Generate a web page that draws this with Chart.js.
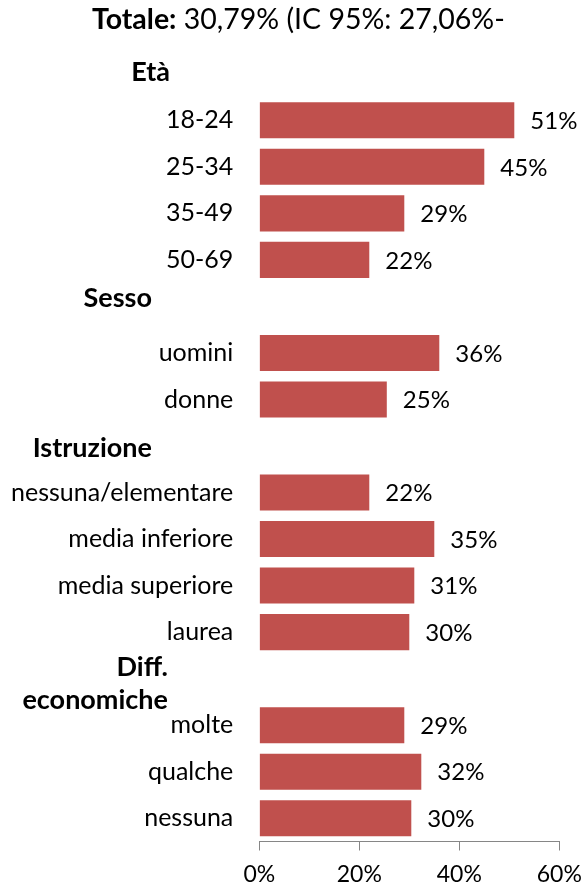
<!DOCTYPE html>
<html>
<head>
<meta charset="utf-8">
<script src="https://cdn.jsdelivr.net/npm/chart.js@4/dist/chart.umd.min.js"></script>
<style>
  html, body { margin: 0; padding: 0; background: #ffffff; }
  #wrap { width: 586px; height: 888px; position: relative; }
</style>
</head>
<body>
<div id="wrap"><canvas id="c" width="586" height="888"></canvas></div>
<script>
// ---- data ----
const titleBold = 'Totale:';
const titleRest = ' 30,79% (IC 95%: 27,06%-';
const categories = ['Età', '18-24', '25-34', '35-49', '50-69',
  'Sesso', 'uomini', 'donne',
  'Istruzione', 'nessuna/elementare', 'media inferiore', 'media superiore', 'laurea',
  'Diff. economiche', 'molte', 'qualche', 'nessuna'];
const groupHeaders = ['Età', 'Sesso', 'Istruzione', 'Diff. economiche'];
const values = [null, 51, 45, 29, 22,
  null, 36, 25.5,
  null, 22, 35, 31, 30,
  null, 29, 32.4, 30.4];
const valueLabels = ['', '51%', '45%', '29%', '22%',
  '', '36%', '25%',
  '', '22%', '35%', '31%', '30%',
  '', '29%', '32%', '30%'];
const xTicks = [0, 20, 40, 60];

// ---- styles ----
const FONT = 'Lato';
const BAR = '#C0504D';
const AXIS = '#868686';

const headerLayout = {
  'Età': { right: 170, dy: -1, lines: ['Età'] },
  'Sesso': { right: 152, dy: -8, lines: ['Sesso'] },
  'Istruzione': { right: 152, dy: 2, lines: ['Istruzione'] },
  'Diff. economiche': { right: 168, dy: 5, lines: ['Diff.', 'economiche'], lineGap: 33 }
};

const titlePlugin = {
  id: 'mixedTitle',
  afterDraw(chart) {
    const ctx = chart.ctx;
    ctx.save();
    ctx.fillStyle = '#000';
    ctx.textBaseline = 'alphabetic';
    ctx.textAlign = 'left';
    let x = 92;
    const y = 29;
    ctx.font = 'bold 28.5px ' + FONT;
    ctx.fillText(titleBold, x, y);
    x += ctx.measureText(titleBold).width;
    ctx.font = '28.5px ' + FONT;
    ctx.fillText(titleRest, x, y);
    ctx.restore();
  }
};

const headerPlugin = {
  id: 'groupHeaders',
  afterDraw(chart) {
    const ctx = chart.ctx;
    const yScale = chart.scales.y;
    ctx.save();
    ctx.fillStyle = '#000';
    ctx.font = 'bold 27px ' + FONT;
    ctx.textAlign = 'right';
    ctx.textBaseline = 'middle';
    groupHeaders.forEach(h => {
      const idx = categories.indexOf(h);
      const lay = headerLayout[h];
      const cy = yScale.getPixelForValue(idx) + lay.dy;
      const n = lay.lines.length;
      const gap = lay.lineGap || 0;
      lay.lines.forEach((t, i) => {
        ctx.fillText(t, lay.right, cy + (i - (n - 1) / 2) * gap);
      });
    });
    ctx.restore();
  }
};

const valueLabelPlugin = {
  id: 'valueLabels',
  afterDatasetsDraw(chart) {
    const ctx = chart.ctx;
    const meta = chart.getDatasetMeta(0);
    ctx.save();
    ctx.fillStyle = '#000';
    ctx.font = '24px ' + FONT;
    ctx.textAlign = 'left';
    ctx.textBaseline = 'middle';
    meta.data.forEach((bar, i) => {
      if (values[i] === null) return;
      ctx.fillText(valueLabels[i], bar.x + 16, bar.y + 1);
    });
    ctx.restore();
  }
};

new Chart(document.getElementById('c'), {
  type: 'bar',
  data: {
    labels: categories,
    datasets: [{
      data: values,
      backgroundColor: BAR,
      borderWidth: 0,
      barPercentage: 0.775,
      categoryPercentage: 1
    }]
  },
  options: {
    indexAxis: 'y',
    responsive: false,
    animation: false,
    events: [],
    layout: { padding: { top: 50.5, right: 26.7, bottom: 0, left: 0 } },
    plugins: {
      legend: { display: false },
      title: { display: false },
      tooltip: { enabled: false }
    },
    scales: {
      x: {
        min: 0, max: 60,
        afterFit(scale) { scale.height = 46.5; scale.paddingRight = 0; scale.paddingLeft = 0; },
        afterBuildTicks(scale) { scale.ticks = xTicks.map(v => ({ value: v })); },
        grid: { display: true, drawOnChartArea: false, drawTicks: true, tickLength: 9, color: AXIS, lineWidth: 1 },
        border: { display: true, color: AXIS, width: 1 },
        ticks: {
          padding: 10,
          color: '#000',
          font: { family: FONT, size: 23 },
          callback: v => v + '%'
        }
      },
      y: {
        afterFit(scale) { scale.width = 259.3; },
        grid: { display: false, drawTicks: false },
        border: { display: false },
        ticks: {
          padding: 26,
          color: '#000',
          autoSkip: false,
          font: { family: FONT, size: 25 },
          callback(v, i) {
            const lab = categories[i];
            return groupHeaders.includes(lab) ? '' : lab;
          }
        }
      }
    }
  },
  plugins: [titlePlugin, headerPlugin, valueLabelPlugin]
});
</script>
</body>
</html>
